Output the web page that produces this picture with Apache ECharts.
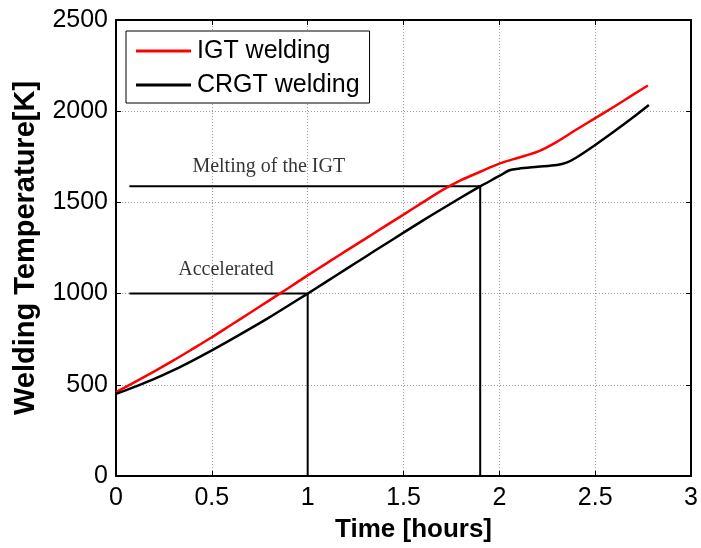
<!DOCTYPE html>
<html>
<head>
<meta charset="utf-8">
<script src="https://cdn.jsdelivr.net/npm/echarts@6/dist/echarts.min.js"></script>
<style>
  html, body { margin: 0; padding: 0; background: #fff; }
  #chart { width: 701px; height: 548px; }
</style>
</head>
<body>
<div id="chart"></div>
<script>
// Welding temperature over time for the two processes
const igtTime  = [0, 0.1, 0.2, 0.3, 0.4, 0.5, 0.6, 0.7, 0.8, 0.9, 1.0, 1.1, 1.2, 1.3, 1.4, 1.5, 1.6, 1.7, 1.8, 1.9, 2.0, 2.1, 2.2, 2.3, 2.4, 2.5, 2.6, 2.7, 2.775];
const igtTemp  = [460, 516, 574, 634, 697, 761, 828, 895, 963, 1031, 1100, 1167, 1234, 1300, 1367, 1433, 1500, 1566, 1622, 1668, 1713, 1745, 1778, 1832, 1898, 1962, 2026, 2092, 2141];

const crgtTime = [0, 0.1, 0.2, 0.3, 0.4, 0.5, 0.6, 0.7, 0.8, 0.9, 1.0, 1.1, 1.2, 1.3, 1.4, 1.5, 1.6, 1.7, 1.8, 1.9, 2.0, 2.05, 2.1, 2.2, 2.3, 2.35, 2.4, 2.5, 2.6, 2.7, 2.78];
const crgtTemp = [450, 490, 532, 580, 633, 689, 748, 808, 870, 935, 1000, 1067, 1134, 1201, 1268, 1334, 1400, 1464, 1527, 1588, 1645, 1675, 1685, 1695, 1705, 1718, 1745, 1815, 1890, 1968, 2034];

// Guide lines marking the two events on the CRGT curve
const acceleratedTime = [0.07, 1.0, 1.0];
const acceleratedTemp = [1000, 1000, 0];
const meltingTime = [0.07, 1.9, 1.9];
const meltingTemp = [1588, 1588, 0];

const xTicks = [0, 0.5, 1, 1.5, 2, 2.5, 3];
const yTicks = [0, 500, 1000, 1500, 2000, 2500];

const seriesNames = ['IGT welding', 'CRGT welding'];
const notes = ['Accelerated', 'Melting of the IGT'];
const noteAnchors = [[0.574, 1130], [0.797, 1696]];

const zip = (xs, ys) => xs.map((x, i) => [x, ys[i]]);

const sans = 'Liberation Sans, Arial, sans-serif';
const serif = 'Liberation Serif, Times New Roman, serif';

// Mirror axes on the top and right close the box and repeat the inner ticks
const frameAxis = {
  min: 0,
  axisLine: { show: true, onZero: false, lineStyle: { color: '#000', width: 2 } },
  axisTick: { show: true, inside: true, length: 5, lineStyle: { color: '#000', width: 1 } },
  axisLabel: { show: false },
  splitLine: { show: false }
};

const chart = echarts.init(document.getElementById('chart'), null, { renderer: 'canvas' });
chart.setOption({
  animation: false,
  backgroundColor: '#fff',
  grid: { left: 116, right: 5, top: 20, bottom: 68, containLabel: false },
  legend: {
    data: seriesNames,
    orient: 'vertical',
    left: 126,
    top: 31,
    padding: [6, 10, 4, 10],
    itemGap: 6,
    itemWidth: 55,
    itemHeight: 3,
    icon: 'rect',
    backgroundColor: '#fff',
    borderColor: '#000',
    borderWidth: 1,
    borderRadius: 0,
    textStyle: { fontFamily: sans, fontSize: 25, lineHeight: 28, color: '#000', padding: [0, 0, 0, 1] }
  },
  xAxis: [
    {
      type: 'value', min: 0, max: 3, interval: 0.5, position: 'bottom',
      name: 'Time [hours]', nameLocation: 'middle', nameGap: 41,
      nameTextStyle: { fontFamily: sans, fontSize: 26, fontWeight: 'bold', color: '#000', padding: [0, 0, 0, 20], verticalAlign: 'top' },
      axisLine: { show: true, onZero: false, lineStyle: { color: '#000', width: 2 } },
      axisTick: { show: true, inside: true, length: 5, lineStyle: { color: '#000', width: 1 } },
      axisLabel: { fontFamily: sans, fontSize: 25, color: '#000', margin: 10, formatter: v => xTicks.includes(v) ? String(v) : '' },
      splitLine: { show: true, lineStyle: { color: '#9a9a9a', type: [1, 2], width: 1 } }
    },
    Object.assign({ type: 'value', max: 3, interval: 0.5, position: 'top' }, frameAxis)
  ],
  yAxis: [
    {
      type: 'value', min: 0, max: 2500, interval: 500, position: 'left',
      name: 'Welding Temperature[K]', nameLocation: 'middle', nameGap: 76,
      nameTextStyle: { fontFamily: sans, fontSize: 29, fontWeight: 'bold', color: '#000' },
      axisLine: { show: true, onZero: false, lineStyle: { color: '#000', width: 2 } },
      axisTick: { show: true, inside: true, length: 5, lineStyle: { color: '#000', width: 1 } },
      axisLabel: { fontFamily: sans, fontSize: 25, color: '#000', margin: 8, formatter: v => yTicks.includes(v) ? String(v) : '' },
      splitLine: { show: true, lineStyle: { color: '#9a9a9a', type: [1, 2], width: 1 } }
    },
    Object.assign({ type: 'value', max: 2500, interval: 500, position: 'right' }, frameAxis)
  ],
  series: [
    {
      name: 'Accelerated guide', type: 'line', data: zip(acceleratedTime, acceleratedTemp),
      symbol: 'none', lineStyle: { color: '#000', width: 2 }, z: 2, silent: true
    },
    {
      name: 'Melting guide', type: 'line', data: zip(meltingTime, meltingTemp),
      symbol: 'none', lineStyle: { color: '#000', width: 2 }, z: 2, silent: true
    },
    {
      name: seriesNames[0], type: 'line', data: zip(igtTime, igtTemp),
      smooth: 0.3, symbol: 'none', lineStyle: { color: '#ff0000', width: 2.5 },
      itemStyle: { color: '#ff0000' }, z: 3
    },
    {
      name: seriesNames[1], type: 'line', data: zip(crgtTime, crgtTemp),
      smooth: 0.3, symbol: 'none', lineStyle: { color: '#000', width: 2.5 },
      itemStyle: { color: '#000' }, z: 3
    },
    {
      name: 'notes', type: 'scatter', symbolSize: 0, silent: true,
      data: noteAnchors.map((p, i) => ({ value: p, note: notes[i] })),
      label: {
        show: true, position: 'inside',
        formatter: p => p.data.note,
        fontFamily: serif, fontSize: 20, color: '#000'
      },
      z: 4
    }
  ]
});
</script>
</body>
</html>
